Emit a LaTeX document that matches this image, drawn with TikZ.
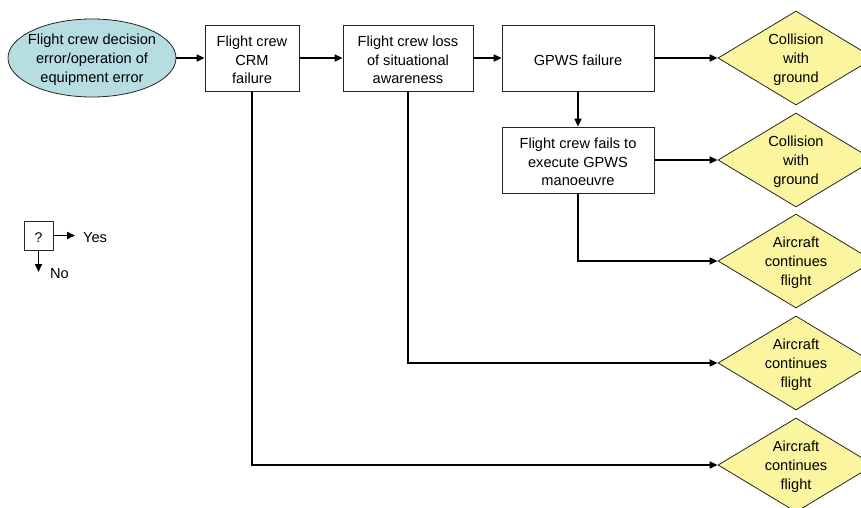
\documentclass[tikz,border=0pt]{standalone}
\usepackage{fontspec}
\setmainfont{Liberation Sans}
\usetikzlibrary{shapes.geometric,arrows.meta}
\definecolor{ellfill}{RGB}{182,222,226}
\definecolor{dfill}{RGB}{250,245,158}
\tikzset{
  every node/.style={font=\fontsize{14.6}{18.7}\selectfont, align=center, inner sep=0pt},
  txt/.style={yshift=-1.8pt},
  box/.style={draw=black!85, line width=0.8pt, fill=white},
  dia/.style={draw=black!85, line width=0.8pt, fill=dfill, diamond, minimum width=156pt, minimum height=94pt},
  conn/.style={line width=1.8pt, -{Triangle[length=8pt,width=7pt]}},
}
\begin{document}
\begin{tikzpicture}[x=1pt,y=-1pt]
\useasboundingbox (0,0) rectangle (861,507);
\clip (0,0) rectangle (861,507);
\fill[white] (0,0) rectangle (861,507);
% start ellipse
\node[ellipse, draw=black!85, line width=0.8pt, fill=ellfill, minimum width=168pt, minimum height=78pt] (e) at (92,58) {};
\node[txt] at (e.center) {Flight crew decision\\error/operation of\\equipment error};
% boxes
\node[box, minimum width=94pt, minimum height=66pt] (b1) at (252,58) {};
\node[txt] at (b1.center) {Flight crew\\CRM\\failure};
\node[box, minimum width=130pt, minimum height=66pt] (b2) at (408,58) {};
\node[txt] at (b2.center) {Flight crew loss\\of situational\\awareness};
\node[box, minimum width=152pt, minimum height=66pt] (b3) at (578,58) {};
\node[txt] at (b3.center) {GPWS failure};
\node[box, minimum width=152pt, minimum height=66pt] (b4) at (578,160) {};
\node[txt] at (b4.center) {Flight crew fails to\\execute GPWS\\manoeuvre};
% diamonds
\node[dia] (d1) at (796,58) {};
\node[txt] at (d1.center) {Collision\\with\\ground};
\node[dia] (d2) at (796,160) {};
\node[txt] at (d2.center) {Collision\\with\\ground};
\node[dia] (d3) at (796,261) {};
\node[txt] at (d3.center) {Aircraft\\continues\\flight};
\node[dia] (d4) at (796,363) {};
\node[txt] at (d4.center) {Aircraft\\continues\\flight};
\node[dia] (d5) at (796,465) {};
\node[txt] at (d5.center) {Aircraft\\continues\\flight};
% connectors
\draw[conn] (e.east) -- (b1.west);
\draw[conn] (b1.east) -- (b2.west);
\draw[conn] (b2.east) -- (b3.west);
\draw[conn] (b3.east) -- (d1.west);
\draw[conn] (b3.south) -- (b4.north);
\draw[conn] (b4.east) -- (d2.west);
\draw[conn] (b4.south) |- (d3.west);
\draw[conn] (b2.south) |- (d4.west);
\draw[conn] (b1.south) |- (d5.west);
% legend
\node[box, minimum width=29pt, minimum height=29pt] (q) at (38.5,235.5) {};
\node[txt, font=\fontsize{14}{16}\selectfont] at (q.center) {?};
\coordinate (ly) at (75,235.5);
\coordinate (ln) at (38.5,272);
\draw[conn] (q.east) -- (ly);
\draw[conn] (q.south) -- (ln);
\node[anchor=west, txt] (yes) at (83,235.5) {Yes};
\node[anchor=west, txt] (no) at (50,272) {No};
\end{tikzpicture}
\end{document}
